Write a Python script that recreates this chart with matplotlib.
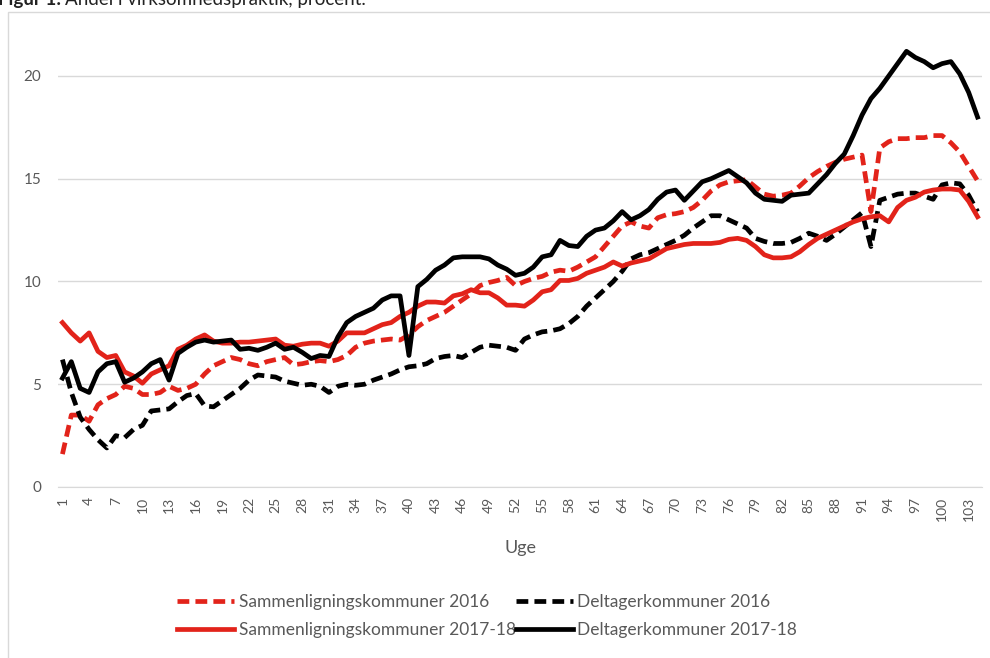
import matplotlib.pyplot as plt
from matplotlib.patches import Rectangle
import numpy as np

plt.rcParams['font.family'] = ['Lato', 'DejaVu Sans']

# week numbers 1..104
weeks = np.arange(1, 105)

sammen_2016 = [
    1.6, 3.5, 3.5, 3.2, 4.0, 4.3, 4.5, 4.9, 4.8, 4.5,
    4.5, 4.6, 4.9, 4.7, 4.8, 5.0, 5.5, 5.9, 6.1, 6.3,
    6.2, 6.0, 5.9, 6.1, 6.2, 6.3, 5.95, 6.0, 6.1, 6.15,
    6.1, 6.2, 6.4, 6.8, 7.0, 7.1, 7.15, 7.2, 7.15, 7.4,
    7.8, 8.1, 8.3, 8.5, 8.8, 9.1, 9.4, 9.8, 9.95, 10.05,
    10.2, 9.8, 10.0, 10.15, 10.25, 10.45, 10.55, 10.5, 10.7, 10.95,
    11.2, 11.7, 12.2, 12.7, 12.9, 12.7, 12.6, 13.1, 13.25, 13.3,
    13.4, 13.6, 13.95, 14.4, 14.7, 14.85, 14.9, 14.95, 14.6, 14.25,
    14.15, 14.2, 14.3, 14.65, 15.05, 15.35, 15.6, 15.8, 15.95, 16.05,
    16.15, 13.4, 16.5, 16.8, 16.95, 16.95, 17.0, 17.0, 17.1, 17.1,
    16.75, 16.3, 15.6, 14.9,
]

deltager_2016 = [
    6.2, 4.6, 3.4, 2.8, 2.3, 1.9, 2.5, 2.4, 2.8, 3.0,
    3.7, 3.75, 3.8, 4.15, 4.45, 4.55, 3.95, 3.9, 4.2, 4.5,
    4.8, 5.2, 5.45, 5.4, 5.35, 5.15, 5.05, 4.95, 5.0, 4.9,
    4.6, 4.9, 5.0, 4.95, 5.0, 5.2, 5.35, 5.5, 5.7, 5.85,
    5.9, 6.0, 6.25, 6.35, 6.4, 6.3, 6.55, 6.8, 6.9, 6.85,
    6.8, 6.65, 7.2, 7.4, 7.55, 7.6, 7.7, 7.95, 8.3, 8.8,
    9.2, 9.6, 10.0, 10.5, 11.1, 11.3, 11.4, 11.6, 11.8, 12.0,
    12.25, 12.6, 12.9, 13.2, 13.2, 13.0, 12.8, 12.6, 12.1, 11.95,
    11.85, 11.85, 11.9, 12.1, 12.35, 12.2, 12.0, 12.3, 12.65, 13.0,
    13.35, 11.7, 13.95, 14.1, 14.25, 14.3, 14.3, 14.15, 14.0, 14.7,
    14.8, 14.75, 14.2, 13.4,
]

sammen_2017 = [
    8.0, 7.5, 7.1, 7.5, 6.6, 6.3, 6.4, 5.6, 5.4, 5.05,
    5.5, 5.7, 5.9, 6.7, 6.9, 7.2, 7.4, 7.1, 7.0, 7.0,
    7.05, 7.05, 7.1, 7.15, 7.2, 6.9, 6.85, 6.95, 7.0, 7.0,
    6.85, 7.1, 7.5, 7.5, 7.5, 7.7, 7.9, 8.0, 8.3, 8.5,
    8.8, 9.0, 9.0, 8.95, 9.3, 9.4, 9.6, 9.45, 9.45, 9.2,
    8.85, 8.85, 8.8, 9.1, 9.5, 9.6, 10.05, 10.05, 10.15, 10.4,
    10.55, 10.7, 10.95, 10.75, 10.9, 11.0, 11.1, 11.35, 11.6, 11.7,
    11.8, 11.85, 11.85, 11.85, 11.9, 12.05, 12.1, 12.0, 11.7, 11.3,
    11.15, 11.15, 11.2, 11.45, 11.8, 12.1, 12.3, 12.5, 12.7, 12.9,
    13.05, 13.15, 13.2, 12.9, 13.6, 13.95, 14.1, 14.35, 14.45, 14.5,
    14.5, 14.45, 13.9, 13.15,
]

deltager_2017 = [
    5.3, 6.1, 4.8, 4.6, 5.6, 6.0, 6.1, 5.1, 5.3, 5.6,
    6.0, 6.2, 5.2, 6.5, 6.8, 7.05, 7.15, 7.05, 7.1, 7.15,
    6.7, 6.75, 6.65, 6.8, 7.0, 6.7, 6.8, 6.55, 6.25, 6.4,
    6.35, 7.3, 8.0, 8.3, 8.5, 8.7, 9.1, 9.3, 9.3, 6.4,
    9.75, 10.1, 10.55, 10.8, 11.15, 11.2, 11.2, 11.2, 11.1, 10.8,
    10.6, 10.3, 10.4, 10.7, 11.2, 11.3, 12.0, 11.75, 11.7, 12.2,
    12.5, 12.6, 12.95, 13.4, 13.0, 13.2, 13.5, 14.0, 14.35, 14.45,
    13.95, 14.4, 14.85, 15.0, 15.2, 15.4, 15.1, 14.8, 14.3, 14.0,
    13.95, 13.9, 14.2, 14.25, 14.3, 14.75, 15.2, 15.75, 16.2, 17.1,
    18.1, 18.9, 19.4, 20.0, 20.6, 21.2, 20.9, 20.7, 20.4, 20.6,
    20.7, 20.1, 19.2, 18.0,
]

tick_weeks = list(range(1, 104, 3))

red = '#e2231a'
black = '#000000'
grey_txt = '#595959'
dash = (0, (2.5, 1.3))

fig = plt.figure(figsize=(9.9, 6.58), dpi=100)
ax = fig.add_axes([58 / 990, 1 - 487 / 658, 924 / 990, 462.4 / 658])

lw = 3.4
l1, = ax.plot(weeks, sammen_2016, color=red, lw=lw, linestyle=dash,
              label='Sammenligningskommuner 2016')
l2, = ax.plot(weeks, deltager_2016, color=black, lw=lw, linestyle=dash,
              label='Deltagerkommuner 2016')
l3, = ax.plot(weeks, sammen_2017, color=red, lw=lw,
              label='Sammenligningskommuner 2017-18')
l4, = ax.plot(weeks, deltager_2017, color=black, lw=lw,
              label='Deltagerkommuner 2017-18')

ax.set_xlim(0.5, 104.5)
ax.set_ylim(0, 22.5)
ax.set_yticks([0, 5, 10, 15, 20])
ax.set_xticks(tick_weeks)
ax.set_xticklabels([str(w) for w in tick_weeks], rotation=90)
ax.tick_params(axis='x', length=0, pad=7, labelsize=10, labelcolor=grey_txt)
ax.tick_params(axis='y', length=0, pad=12, labelsize=11, labelcolor=grey_txt)
ax.grid(axis='y', color='#d9d9d9', lw=1)
ax.set_axisbelow(True)
for s in ['top', 'right', 'left']:
    ax.spines[s].set_visible(False)
ax.spines['bottom'].set_color('#d9d9d9')

fig.text(520 / 990, 1 - 548 / 658, 'Uge', ha='center', va='center',
         fontsize=13, color=grey_txt)

fig.legend(handles=[l1, l3, l2, l4], ncol=2, loc='center',
           bbox_to_anchor=(487 / 990, 1 - 616 / 658), frameon=False,
           fontsize=12.5, handlelength=3.3, handletextpad=0.25,
           columnspacing=0.0, labelspacing=0.65, labelcolor=grey_txt)

# chart border
fig.patches.append(Rectangle((8 / 990, -0.05), 1.0, 1 - 12 / 658 + 0.05,
                             transform=fig.transFigure, fill=False,
                             edgecolor='#d9d9d9', lw=1))

# title, cut off at the top edge like in the source
t1 = fig.text(-0.002, 1 - 5 / 658, 'Figur 1:', fontsize=13.5, fontweight='bold',
              va='baseline', ha='left', color='#222222')
fig.canvas.draw()
bb = t1.get_window_extent()
fig.text((bb.x1 + 4) / 990, 1 - 5 / 658, 'Andel i virksomhedspraktik, procent.',
         fontsize=13.5, va='baseline', ha='left', color='#222222')

fig.savefig('out.png', dpi=100)
